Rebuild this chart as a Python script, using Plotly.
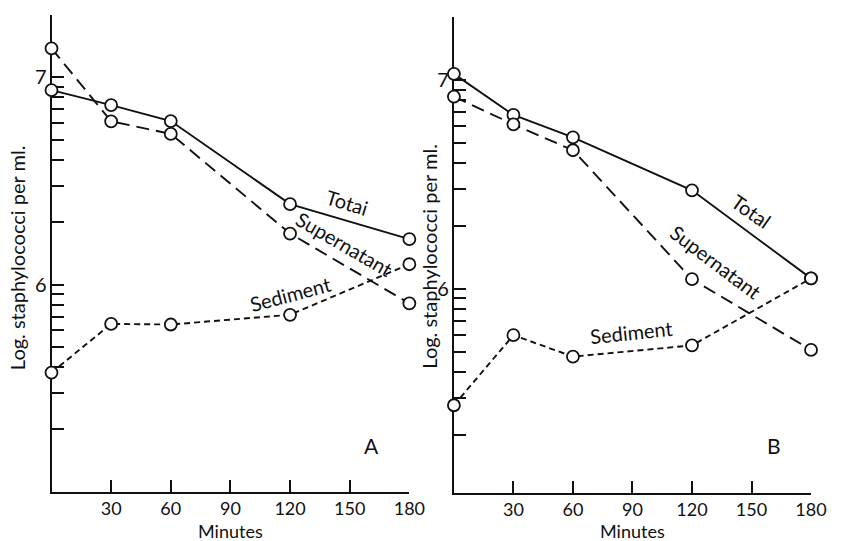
import numpy as np
import plotly.graph_objects as go

# ---------------- data ----------------
minutes = [0, 30, 60, 120, 180]

# Panel A (log10 staphylococci per ml)
a_total = [6.938, 6.866, 6.789, 6.388, 6.219]
a_supernatant = [7.140, 6.788, 6.727, 6.246, 5.909]
a_sediment = [5.575, 5.810, 5.807, 5.854, 6.098]

# Panel B
b_total = [7.030, 6.833, 6.726, 6.472, 6.050]
b_supernatant = [6.921, 6.788, 6.664, 6.046, 5.707]
b_sediment = [5.442, 5.778, 5.675, 5.729, 6.050]

x_ticks = [30, 60, 90, 120, 150, 180]
x_ticktext = ["30", "60", "90", "120", "150", "180"]

# log-scale tick marks (counts per ml), labelled only at the decades 10^6 and 10^7
y_tick_counts = [1e5, 2e5, 3e5, 4e5, 5e5, 6e5, 7e5, 8e5, 9e5,
                 1e6, 2e6, 3e6, 4e6, 5e6, 6e6, 7e6, 8e6, 9e6,
                 1e7, 2e7]
y_ticktext_map = {1e6: "6", 1e7: "7"}

y_title = "Log. staphylococci per ml."
x_title = "Minutes"
series_names = ["Total", "Supernatant", "Sediment"]

# ---------------- figure ----------------
FONT = "Lato"
INK = "#111111"
dash_styles = {"Total": "solid", "Supernatant": "13px,7px", "Sediment": "6px,4px"}

fig = go.Figure()

panels = [
    ("x", "y", {"Total": a_total, "Supernatant": a_supernatant, "Sediment": a_sediment}),
    ("x2", "y2", {"Total": b_total, "Supernatant": b_supernatant, "Sediment": b_sediment}),
]

for xa, ya, data in panels:
    for name in series_names:
        fig.add_trace(go.Scatter(
            x=minutes, y=data[name], mode="lines", xaxis=xa, yaxis=ya,
            line=dict(color=INK, width=1.9, dash=dash_styles[name]),
            hoverinfo="skip", showlegend=False))
for xa, ya, data in panels:
    for name in series_names:
        fig.add_trace(go.Scatter(
            x=minutes, y=data[name], mode="markers", xaxis=xa, yaxis=ya, name=name,
            marker=dict(symbol="circle", size=12, color="white",
                        line=dict(color=INK, width=1.8)),
            cliponaxis=False, showlegend=False))

tickvals_y = [float(np.log10(c)) for c in y_tick_counts]
ticktext_y = [y_ticktext_map.get(c, "") for c in y_tick_counts]

common_x = dict(range=[0, 180], tickmode="array", tickvals=x_ticks, ticktext=x_ticktext,
                ticks="inside", ticklen=12, tickwidth=1.8, tickcolor=INK,
                showline=True, linecolor=INK, linewidth=2, showgrid=False, zeroline=False,
                tickfont=dict(family=FONT, size=18, color=INK), ticklabelstandoff=0,
                layer="below traces", fixedrange=True)
common_y = dict(tickmode="array", tickvals=tickvals_y, ticktext=ticktext_y,
                ticks="inside", ticklen=12, tickwidth=1.8, tickcolor=INK,
                showline=True, linecolor=INK, linewidth=2, showgrid=False, zeroline=False,
                tickfont=dict(family=FONT, size=20, color=INK), ticklabelstandoff=-1,
                layer="below traces", fixedrange=True)
title_font = dict(family=FONT, size=20, color=INK)

fig.update_layout(
    width=844, height=541, autosize=False,
    margin=dict(l=0, r=0, t=0, b=0),
    paper_bgcolor="white", plot_bgcolor="white",
    showlegend=False,
    xaxis=dict(domain=[0.0622, 0.4944], anchor="y", **common_x),
    yaxis=dict(domain=[0.0911, 0.9723], range=[5.0, 7.301], anchor="x", **common_y),
    xaxis2=dict(domain=[0.5482, 0.9795], anchor="y2", **common_x),
    yaxis2=dict(domain=[0.0893, 0.9680], range=[5.023, 7.301], anchor="x2", **common_y),
)

# axis titles (placed to match the original's spacing)
for xp, yp in [(0.0201, 0.524), (0.5178, 0.527)]:
    fig.add_annotation(text=y_title, x=xp, y=yp, xref="paper", yref="paper",
                       xanchor="center", yanchor="middle", borderpad=0,
                       textangle=-90, showarrow=False, font=title_font)
for xr in ["x", "x2"]:
    fig.add_annotation(text=x_title, x=90, y=0.0194, xref=xr, yref="paper",
                       xanchor="center", yanchor="middle", showarrow=False, borderpad=0,
                       font=dict(family=FONT, size=18, color=INK))

lab_font = dict(family=FONT, size=20, color=INK)
annos = [
    dict(text="Totai", x=148.4, y=6.398, xref="x", yref="y", textangle=17),
    dict(text="Supernatant", x=147.5, y=6.197, xref="x", yref="y", textangle=30),
    dict(text="Sediment", x=120.0, y=5.953, xref="x", yref="y", textangle=-15),
    dict(text="A", x=161.1, y=5.221, xref="x", yref="y", font=dict(family=FONT, size=21, color=INK)),
    dict(text="Total", x=149.8, y=6.371, xref="x2", yref="y2", textangle=35),
    dict(text="Supernatant", x=132.1, y=6.127, xref="x2", yref="y2", textangle=37),
    dict(text="Sediment", x=89.5, y=5.792, xref="x2", yref="y2", textangle=-6),
    dict(text="B", x=161.3, y=5.247, xref="x2", yref="y2", font=dict(family=FONT, size=21, color=INK)),
]
for a in annos:
    a.setdefault("font", lab_font)
    a.update(showarrow=False)
    fig.add_annotation(**a)

fig.write_html("out.html")
